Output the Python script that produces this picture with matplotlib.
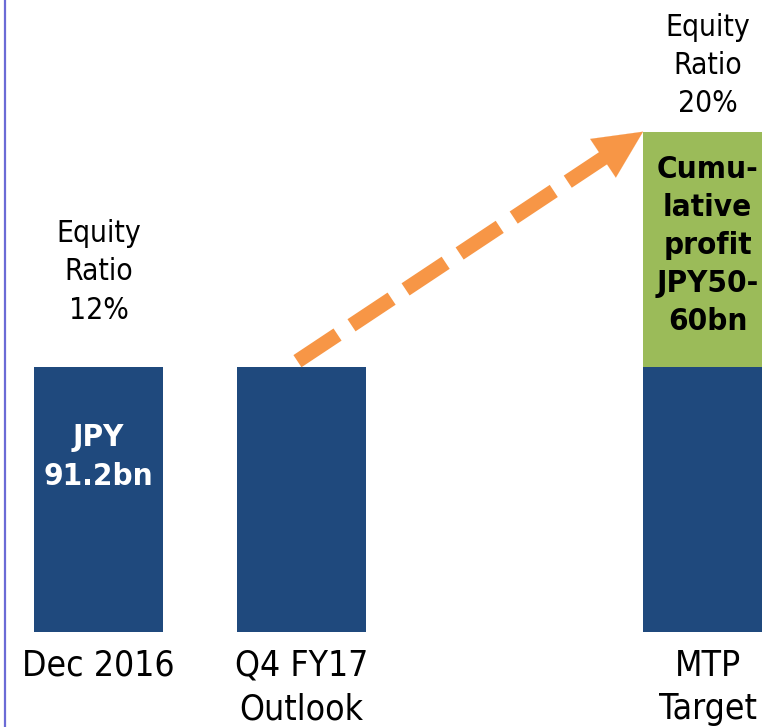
import numpy as np
import matplotlib
matplotlib.use("Agg")
import matplotlib.pyplot as plt

# data
categories = ["Dec 2016", "Q4 FY17\nOutlook", "", "MTP\nTarget"]
equity = [91.2, 91.2, np.nan, 91.2]
profit_add = [0, 0, 0, 81.0]
ratio_labels = ["Equity\nRatio\n12%", "", "", "Equity\nRatio\n20%"]
inside_label = "JPY\n91.2bn"
profit_label = "Cumu-\nlative\nprofit\nJPY50-\n60bn"

NAVY = "#1F497D"
GREEN = "#9BBB59"
ORANGE = "#F79646"
EDGE = "#6B6BD6"

# condensed DejaVu is close to the Tahoma look of the original
plt.rcParams['font.family'] = ['DejaVu Sans']
plt.rcParams['font.stretch'] = 'condensed'

fig = plt.figure(figsize=(7.62, 7.27), dpi=100)
ax = fig.add_axes([0, 0, 1, 1])
ax.set_xlim(-0.485, 3.268)
ax.set_ylim(-32.7, 217.5)
ax.axis('off')

x = np.arange(len(categories))
w = 0.635
has_bar = ~np.isnan(equity)
eq = np.nan_to_num(equity)
ax.bar(x[has_bar], eq[has_bar], width=w, color=NAVY)
add = np.array(profit_add, dtype=float)
ax.bar(x[add > 0], add[add > 0], bottom=eq[add > 0], width=w, color=GREEN)

# thin frame line on the left
ax.axvline(-0.458, color=EDGE, lw=1.6)

# category labels under the bars
for xi, cat in zip(x, categories):
    if cat:
        ax.text(xi, -5.8, cat, ha='center', va='top', fontsize=25.5,
                linespacing=1.34)

# equity ratio labels above the bars
offsets = [68.5, 0, 0, 47.8]
for xi, lab, e, a, off in zip(x, ratio_labels, eq, add, offsets):
    if lab:
        ax.annotate(lab, xy=(xi, e + a), xytext=(0, off),
                    textcoords='offset points', ha='center', va='center',
                    fontsize=21.5, linespacing=1.4)

# text inside bars
ax.text(x[0], eq[0] * 0.66, inside_label, ha='center', va='center',
        fontsize=22.5, fontweight='bold', color='white', linespacing=1.42)
top = eq[3] + add[3]
ax.text(x[3], eq[3] + add[3] / 2 + 1.3, profit_label, ha='center', va='center',
        fontsize=22.5, fontweight='bold', color='black', linespacing=1.39)

# dashed growth arrow from Q4 bar to MTP target
fig.canvas.draw()
tail = ax.transData.transform((x[1] - 0.02, eq[1] + 2.0))
tip = ax.transData.transform((x[3] - w / 2, top))
d = (tip - tail) / np.hypot(*(tip - tail))
head_len = 48
base = tip - d * head_len
inv = ax.transData.inverted()
tail_d = inv.transform(tail)
base_d = inv.transform(base + d * 3)
tip_d = inv.transform(tip)
ax.plot([tail_d[0], base_d[0]], [tail_d[1], base_d[1]], color=ORANGE,
        lw=10.5, linestyle=(0, (3.3, 1.15)), dash_capstyle='butt')
ax.annotate('', xy=tip_d, xytext=inv.transform(base),
            arrowprops=dict(arrowstyle='-|>,head_length=%f,head_width=%f'
                            % (head_len * 0.72, 16.7),
                            mutation_scale=1, color=ORANGE, lw=0.1,
                            shrinkA=0, shrinkB=0))

fig.savefig("out.png", dpi=100)
